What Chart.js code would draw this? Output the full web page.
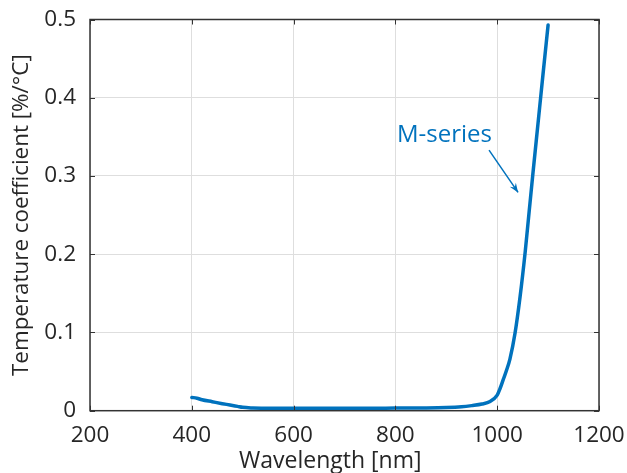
<!DOCTYPE html>
<html>
<head>
<meta charset="utf-8">
<script src="https://cdn.jsdelivr.net/npm/chart.js@4"></script>
<style>
  html, body { margin: 0; padding: 0; background: #fff; }
  #wrap { width: 627px; height: 473px; }
  canvas { display: block; }
</style>
</head>
<body>
<div id="wrap"><canvas id="c" width="627" height="473"></canvas></div>
<script>
// ---- data ----
const wavelengths = [400, 410, 420, 440, 460, 475, 490, 500, 520, 550, 600, 650, 700, 750, 800, 850, 900, 930, 950, 970, 986, 1000, 1006, 1012, 1018, 1025, 1035, 1045, 1055, 1063, 1070, 1080, 1090, 1100];
const tempCoeff   = [0.017, 0.016, 0.014, 0.0115, 0.009, 0.0073, 0.0055, 0.0043, 0.0035, 0.003, 0.003, 0.003, 0.003, 0.003, 0.0033, 0.0035, 0.004, 0.005, 0.0065, 0.0085, 0.0118, 0.020, 0.029, 0.040, 0.051, 0.066, 0.099, 0.146, 0.203, 0.256, 0.302, 0.366, 0.430, 0.493];
const seriesName  = "M-series";
const xTickValues = [200, 400, 600, 800, 1000, 1200];
const yTickValues = [0, 0.1, 0.2, 0.3, 0.4, 0.5];
const xTitle = "Wavelength [nm]";
const yTitle = "Temperature coefficient [%/°C]";
// annotation (data coordinates)
const labelAt   = [803, 0.344];
const arrowFrom = [984, 0.333];
const arrowTo   = [1041, 0.279];
const xTitleCenter = 672; // x title sits left of the plot centre in the reference

const BLUE = '#0072BD';
const FONT = '"Open Sans", sans-serif';
const TXT = '#262626';

const boxPlugin = {
  id: 'boxAndAnnot',
  afterDraw(chart) {
    const {ctx, chartArea: a, scales: {x, y}} = chart;
    ctx.save();
    // inward ticks
    ctx.strokeStyle = '#333';
    ctx.lineWidth = 1;
    const tl = 5;
    xTickValues.forEach(v => {
      const px = Math.round(x.getPixelForValue(v)) + 0.5;
      ctx.beginPath();
      ctx.moveTo(px, a.bottom); ctx.lineTo(px, a.bottom - tl);
      ctx.moveTo(px, a.top); ctx.lineTo(px, a.top + tl);
      ctx.stroke();
    });
    yTickValues.forEach(v => {
      const py = Math.round(y.getPixelForValue(v)) + 0.5;
      ctx.beginPath();
      ctx.moveTo(a.left, py); ctx.lineTo(a.left + tl, py);
      ctx.moveTo(a.right, py); ctx.lineTo(a.right - tl, py);
      ctx.stroke();
    });
    // box
    ctx.lineWidth = 1.5;
    ctx.strokeStyle = '#333';
    ctx.strokeRect(a.left, a.top, a.right - a.left, a.bottom - a.top);

    // x-axis title
    ctx.fillStyle = TXT;
    ctx.font = '23px ' + FONT;
    ctx.textAlign = 'center';
    ctx.textBaseline = 'middle';
    ctx.fillText(xTitle, x.getPixelForValue(xTitleCenter), chart.height - 12);

    // annotation text
    ctx.fillStyle = BLUE;
    ctx.font = '24px ' + FONT;
    ctx.textAlign = 'left';
    ctx.textBaseline = 'alphabetic';
    ctx.fillText(seriesName, x.getPixelForValue(labelAt[0]), y.getPixelForValue(labelAt[1]));

    // arrow
    const x0 = x.getPixelForValue(arrowFrom[0]), y0 = y.getPixelForValue(arrowFrom[1]);
    const x1 = x.getPixelForValue(arrowTo[0]),   y1 = y.getPixelForValue(arrowTo[1]);
    ctx.strokeStyle = BLUE;
    ctx.lineWidth = 1.5;
    ctx.beginPath(); ctx.moveTo(x0, y0); ctx.lineTo(x1, y1); ctx.stroke();
    const ang = Math.atan2(y1 - y0, x1 - x0);
    const hl = 10, hw = 0.38;
    ctx.fillStyle = BLUE;
    ctx.beginPath();
    ctx.moveTo(x1, y1);
    ctx.lineTo(x1 - hl * Math.cos(ang - hw), y1 - hl * Math.sin(ang - hw));
    ctx.lineTo(x1 - hl * 0.6 * Math.cos(ang), y1 - hl * 0.6 * Math.sin(ang));
    ctx.lineTo(x1 - hl * Math.cos(ang + hw), y1 - hl * Math.sin(ang + hw));
    ctx.closePath();
    ctx.fill();
    ctx.restore();
  }
};

new Chart(document.getElementById('c'), {
  type: 'line',
  data: {
    datasets: [{
      label: seriesName,
      data: wavelengths.map((w, i) => ({x: w, y: tempCoeff[i]})),
      borderColor: BLUE,
      borderWidth: 3.5,
      pointRadius: 0,
      fill: false,
      cubicInterpolationMode: 'monotone',
      borderCapStyle: 'round',
      borderJoinStyle: 'round'
    }]
  },
  options: {
    responsive: false,
    animation: false,
    devicePixelRatio: 1,
    layout: { padding: { top: 19.5, right: 28, left: 0, bottom: 0 } },
    plugins: { legend: { display: false }, tooltip: { enabled: false } },
    scales: {
      x: {
        type: 'linear',
        min: 200, max: 1200,
        afterBuildTicks: s => { s.ticks = xTickValues.map(v => ({value: v})); },
        afterFit: s => { s.height = 62.3; s.paddingLeft = 0; s.paddingRight = 0; },
        ticks: { color: TXT, font: { family: FONT, size: 22.5 }, padding: 11, maxRotation: 0, callback: v => String(v) },
        grid: { color: '#dedede', lineWidth: 1, drawTicks: false },
        border: { display: false },
        title: { display: false }
      },
      y: {
        type: 'linear',
        min: 0, max: 0.5,
        afterBuildTicks: s => { s.ticks = yTickValues.map(v => ({value: v})); },
        afterFit: s => { s.width = 90; s.paddingTop = 0; s.paddingBottom = 0; },
        ticks: { color: TXT, font: { family: FONT, size: 22.5 }, padding: 14, callback: v => (v === 0 ? '0' : v.toFixed(1)) },
        grid: { color: '#dedede', lineWidth: 1, drawTicks: false },
        border: { display: false },
        title: { display: true, text: yTitle, color: TXT, font: { family: FONT, size: 22.4 }, padding: { top: 8.5, bottom: 0 } }
      }
    }
  },
  plugins: [boxPlugin]
});
</script>
</body>
</html>
